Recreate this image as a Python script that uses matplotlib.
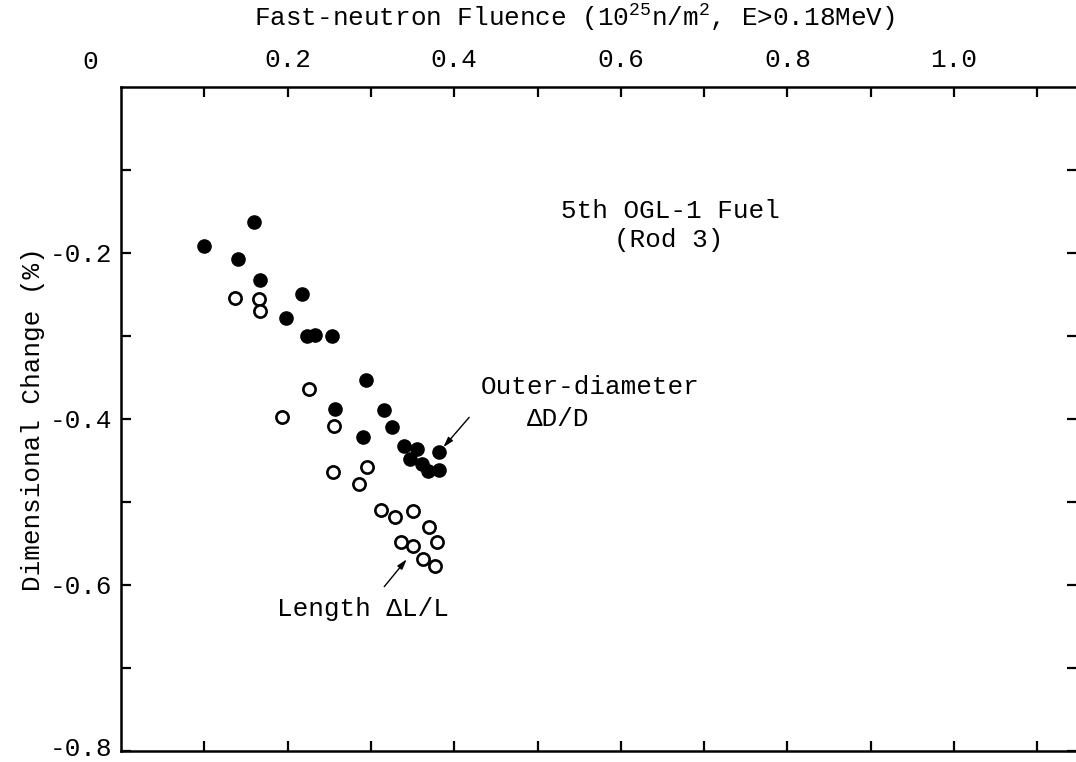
import matplotlib
matplotlib.use("Agg")
import matplotlib.pyplot as plt
import matplotlib.transforms as mtransforms

plt.rcParams['font.family'] = ['Liberation Mono', 'DejaVu Sans Mono', 'DejaVu Sans']
plt.rcParams['mathtext.default'] = 'regular'

# Outer-diameter (filled circles)
od_x = [0.100, 0.160, 0.140, 0.167, 0.217, 0.198, 0.223, 0.233, 0.253, 0.294,
        0.257, 0.316, 0.325, 0.291, 0.340, 0.355, 0.382, 0.347, 0.361, 0.369, 0.382]
od_y = [-0.192, -0.163, -0.207, -0.232, -0.249, -0.278, -0.300, -0.299, -0.300, -0.353,
        -0.388, -0.389, -0.410, -0.422, -0.433, -0.436, -0.440, -0.448, -0.454, -0.463, -0.462]

# Length (open circles)
len_x = [0.137, 0.166, 0.167, 0.226, 0.193, 0.256, 0.255, 0.295, 0.286, 0.312,
         0.329, 0.351, 0.370, 0.336, 0.351, 0.379, 0.363, 0.377]
len_y = [-0.254, -0.256, -0.270, -0.364, -0.397, -0.409, -0.464, -0.458, -0.478, -0.510,
         -0.518, -0.511, -0.530, -0.548, -0.553, -0.548, -0.569, -0.577]

x_ticks = [0.1, 0.2, 0.3, 0.4, 0.5, 0.6, 0.7, 0.8, 0.9, 1.0, 1.1]
x_labels = ["", "0.2", "", "0.4", "", "0.6", "", "0.8", "", "1.0", ""]
y_ticks = [-0.1, -0.2, -0.3, -0.4, -0.5, -0.6, -0.7, -0.8]
y_labels = ["", "-0.2", "", "-0.4", "", "-0.6", "", "-0.8"]

fs = 18.7

fig = plt.figure(figsize=(10.76, 7.62), dpi=100)
ax = fig.add_axes([121/1076, 1 - 751/762, (1077 - 121)/1076, (751 - 87)/762])
ax.set_xlim(0, (1077 - 121) / 833)
ax.set_ylim(-0.8, 0.0)

ax.plot(od_x, od_y, 'o', color='black', markersize=9.5, linestyle='none')
ax.plot(len_x, len_y, 'o', markerfacecolor='white', markeredgecolor='black',
        markeredgewidth=1.9, markersize=8.8, linestyle='none')

for s in ax.spines.values():
    s.set_linewidth(1.8)

ax.set_xticks(x_ticks)
ax.set_xticklabels(x_labels)
ax.set_yticks(y_ticks)
ax.set_yticklabels(y_labels)
ax.tick_params(axis='both', direction='in', length=7, width=1.6,
               top=True, bottom=True, left=True, right=True,
               labeltop=True, labelbottom=False, labelleft=True, labelright=False,
               labelsize=fs)
ax.tick_params(axis='x', pad=11)
ax.tick_params(axis='y', pad=6)

# lift the bottom "-0.8" label slightly so it stays inside the image
lbl = ax.get_yticklabels()[-1]
lbl.set_transform(lbl.get_transform() + mtransforms.ScaledTranslation(0, 3/72, fig.dpi_scale_trans))

# "0" at the origin corner of the top axis
fig.text(90/1076, 1 - 62/762, "0", fontsize=fs, ha='center', va='center')

fig.text(574/1076, 1 - 18/762, r"Fast-neutron Fluence ($10^{25}$n/m$^{2}$, E>0.18MeV)",
         ha='center', va='center', fontsize=fs)

ax.set_ylabel("Dimensional Change (%)", fontsize=fs, labelpad=4)

ax.text(0.660, -0.150, "5th OGL-1 Fuel", ha='center', va='center', fontsize=fs)
ax.text(0.658, -0.184, "(Rod 3)", ha='center', va='center', fontsize=fs)
ax.text(0.563, -0.362, "Outer-diameter", ha='center', va='center', fontsize=fs)
ax.text(0.525, -0.400, "ΔD/D", ha='center', va='center', fontsize=fs)
ax.text(0.290, -0.629, "Length ΔL/L", ha='center', va='center', fontsize=fs)

arrow = dict(arrowstyle='-|>,head_length=0.6,head_width=0.18', color='black', lw=1.0,
             shrinkA=0, shrinkB=0)
ax.annotate("", xy=(0.387, -0.434), xytext=(0.418, -0.398), arrowprops=arrow)
ax.annotate("", xy=(0.343, -0.569), xytext=(0.316, -0.602), arrowprops=arrow)

fig.savefig("out.png", dpi=100)
